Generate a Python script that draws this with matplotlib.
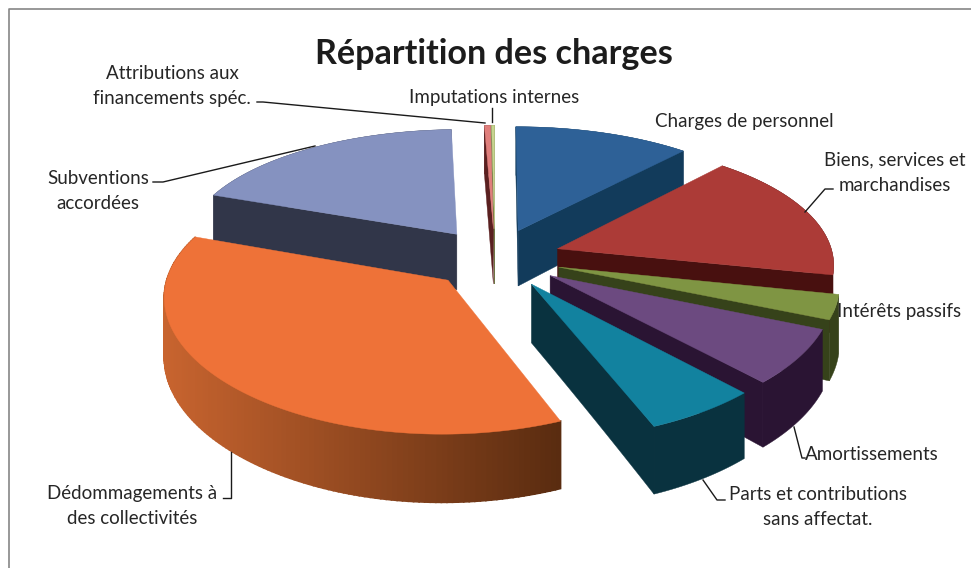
import numpy as np
import matplotlib
matplotlib.use('Agg')
import matplotlib.pyplot as plt
from matplotlib.colors import to_rgb

plt.rcParams['font.family'] = ['Lato', 'DejaVu Sans']

### Data, clockwise from the top, share of total charges in %
names = ['Charges de personnel', 'Biens, services et\nmarchandises', 'Intérêts passifs',
         'Amortissements', 'Parts et contributions\nsans affectat.', 'Dédommagements à\ndes collectivités',
         'Subventions\naccordées', 'Attributions aux\nfinancements spéc.', 'Imputations internes']
values = [11.65, 16.65, 3.05, 6.7, 5.8, 36.7, 18.8, 0.4, 0.2]

top_colors = ['#2E6197', '#AC3B37', '#7F9543', '#6C4A80', '#12829F', '#EE7238', '#8592C0', '#E07F7C', '#C6D48F']
wall_start = ['#123B5B', '#48100F', '#36421A', '#2A1433', '#09323F', '#5A2C10', '#313649', '#5A2020', '#6B7440']
wall_end = ['#123B5B', '#48100F', '#36421A', '#2A1433', '#09323F', '#C8642F', '#313649', '#5A2020', '#6B7440']

# painter's order, back to front
order = [8, 7, 6, 0, 1, 2, 3, 4, 5]

label_pos = [(744, 122), (895, 173), (899, 311), (872, 454), (818, 507), (132, 506), (98, 191), (172, 86), (494, 97)]

leaders = [[(257, 102), (263, 102), (485, 123)],
           [(492, 108), (492, 122)],
           [(833, 189), (825, 189), (805, 212)],
           [(153, 182), (163, 182), (315, 146)],
           [(223, 498), (231, 498), (231, 452)],
           [(794, 427), (802, 458), (805, 458)],
           [(703, 480), (717, 500), (725, 500)]]


### Projection of the tilted pie to picture coordinates
cx, cy = 495, 258
radius = 276
tilt = 0.455
persp_x = 0.11
persp_y = 0.14
depth = 57
explode = 0.24


def project(x, y, z=0.0):
    px = 1 / (1 + persp_x * y)
    py = 1 / (1 + persp_y * y)
    return cx + radius * x * px, cy - (radius * tilt * y - depth * z) * py


### Charting
fig = plt.figure(figsize=(9.71, 5.68), dpi=100)
ax = fig.add_axes([0, 0, 1, 1])
ax.set_xlim(0, 971)
ax.set_ylim(568, 0)
ax.axis('off')

ax.plot([971, 9, 9], [9, 9, 568], color='#868686', lw=1.2)

edges = np.cumsum([0] + values) / sum(values) * 360
for i in order:
    a0, a1 = np.radians(edges[i]), np.radians(edges[i + 1])
    mid = (a0 + a1) / 2
    ox, oy = explode * np.sin(mid), explode * np.cos(mid)
    t = np.linspace(a0, a1, max(int(np.degrees(a1 - a0)), 3))
    rx, ry = ox + np.sin(t), oy + np.cos(t)

    # cut faces, only those turned towards the viewer
    for a, c, side in [(a0, wall_start[i], -1), (a1, wall_end[i], 1)]:
        rr = np.linspace(0, 1, 12)
        xs, ys = ox + rr * np.sin(a), oy + rr * np.cos(a)
        tx, ty = project(xs, ys)
        bx, by = project(xs, ys, 1.0)
        if (tx[-1] - tx[0]) * side > 0:
            ax.fill(np.r_[tx, bx[::-1]], np.r_[ty, by[::-1]], color=c, lw=0.3)

    # outer wall, shaded left to right when the two ends differ
    tx, ty = project(rx, ry)
    bx, by = project(rx, ry, 1.0)
    if wall_start[i] == wall_end[i]:
        ax.fill(np.r_[tx, bx[::-1]], np.r_[ty, by[::-1]], color=wall_start[i], lw=0.3)
    else:
        c0, c1 = np.array(to_rgb(wall_start[i])), np.array(to_rgb(wall_end[i]))
        for k in range(len(t) - 1):
            f = (tx[0] - tx[k]) / (tx[0] - tx.min())
            ax.fill([tx[k], tx[k + 1], bx[k + 1], bx[k]], [ty[k], ty[k + 1], by[k + 1], by[k]],
                    color=c0 + (c1 - c0) * f, lw=1.2)

    # top face
    ax0, ay0 = project(ox, oy)
    ax.fill(np.r_[ax0, tx], np.r_[ay0, ty], color=top_colors[i], lw=0.3)

for pts in leaders:
    xs, ys = zip(*pts)
    ax.plot(xs, ys, color='#1a1a1a', lw=1.0, zorder=20)

ax.text(494, 54, 'Répartition des charges', fontsize=24.6, fontweight='bold', color='#1c1c1c',
        ha='center', va='center', zorder=30)
for name, (x, y) in zip(names, label_pos):
    ax.text(x, y, name, fontsize=13.5, color='#262626', ha='center', va='center',
            linespacing=1.6, zorder=30)

fig.savefig('out.png', dpi=100)
